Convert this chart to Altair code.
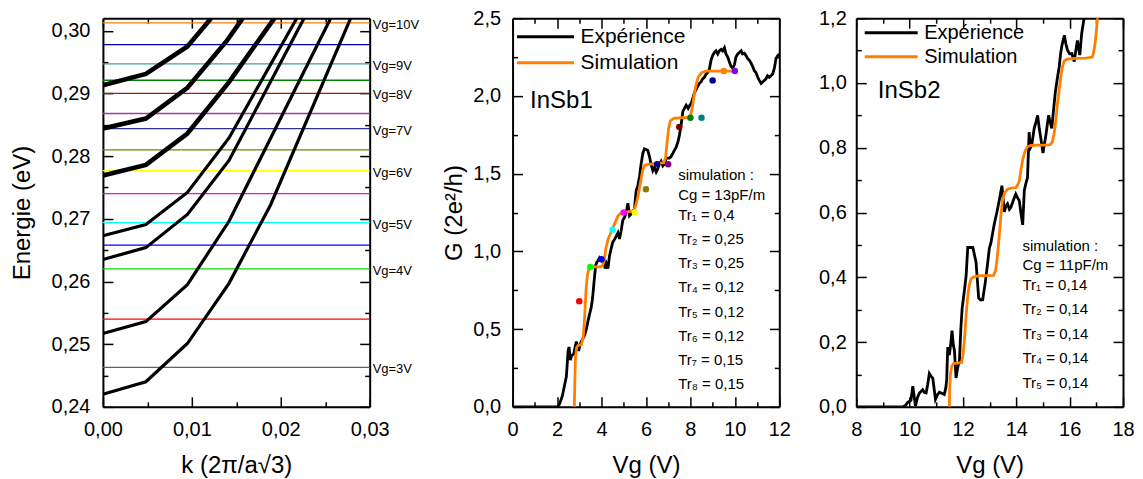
import altair as alt
import pandas as pd

FONT = "Liberation Sans"
W, H = 267, 389

# ---------------- Panel 1 : band structure ----------------
bandA_k = [0.0, 0.00483, 0.0095, 0.01418, 0.01885, 0.02783, 0.0285]
bandA_E = [0.2420, 0.2440, 0.2501, 0.2597, 0.2722, 0.3019, 0.3041]
bandB_k = [0.0, 0.00483, 0.0095, 0.01418, 0.02559, 0.0262]
bandB_E = [0.2517, 0.2536, 0.2595, 0.2696, 0.3019, 0.3036]
bandC_k = [0.0, 0.00483, 0.0095, 0.01418, 0.02259, 0.0232]
bandC_E = [0.2635, 0.2654, 0.2707, 0.2793, 0.3019, 0.3035]
bandD_k = [0.0, 0.00483, 0.0095, 0.01418, 0.02177, 0.0224]
bandD_E = [0.2673, 0.2691, 0.2742, 0.2829, 0.3019, 0.3035]
bandE_k = [0.0, 0.00483, 0.0095, 0.01418, 0.01923, 0.0198]
bandE_E = [0.2769, 0.2786, 0.2836, 0.2918, 0.3019, 0.3031]
bandF_k = [0.0, 0.00483, 0.0095, 0.01399, 0.01567, 0.0162]
bandF_E = [0.2844, 0.2860, 0.2909, 0.2985, 0.3019, 0.3030]
bandG_k = [0.0, 0.00483, 0.0095, 0.01212, 0.0126]
bandG_E = [0.2913, 0.2931, 0.2975, 0.3019, 0.3028]
bands = {"A": (bandA_k, bandA_E), "B": (bandB_k, bandB_E), "C": (bandC_k, bandC_E),
         "D": (bandD_k, bandD_E), "E": (bandE_k, bandE_E), "F": (bandF_k, bandF_E),
         "G": (bandG_k, bandG_E)}
thick_bands = ["E", "F", "G"]

level_vg = [3, 3.5, 4, 4.5, 5, 5.5, 6, 6.5, 7, 7.5, 8, 8.5, 9, 9.5, 10]
level_E = [0.2463, 0.2540, 0.2620, 0.2658, 0.2694, 0.2740, 0.2777, 0.2810,
           0.2844, 0.2868, 0.2900, 0.2921, 0.2947, 0.2978, 0.30125]
level_colors = ["#606060", "#ff0000", "#00e000", "#0000ff", "#00ffff", "#ff00ff",
                "#ffff00", "#808000", "#303090", "#a040a0", "#902020", "#008000",
                "#40a0a0", "#0000b0", "#ff8000"]

# ---------------- Panel 2 : InSb1 ----------------
exp1_vg = [0, 1.9, 2.04, 2.12, 2.24, 2.42, 2.50, 2.54, 2.60, 2.66, 2.75, 2.87, 2.97, 3.04,
           3.09, 3.17, 3.24, 3.32, 3.39, 3.47, 3.54, 3.60, 3.65, 3.69, 3.74, 3.79, 3.84,
           3.92, 3.99, 4.06, 4.10, 4.16, 4.22, 4.29, 4.36, 4.44, 4.51, 4.60, 4.67, 4.74,
           4.81, 4.88, 4.96, 5.04, 5.11, 5.19, 5.26, 5.33, 5.41, 5.48, 5.56, 5.63, 5.71,
           5.78, 5.86, 5.93, 6.01, 6.08, 6.16, 6.23, 6.31, 6.38, 6.46, 6.53, 6.60, 6.68,
           6.76, 6.83, 6.91, 7.06, 7.13, 7.21, 7.28, 7.36, 7.45, 7.51, 7.58, 7.66, 7.73,
           7.81, 7.90, 7.97, 8.03, 8.10, 8.18, 8.25, 8.33, 8.40, 8.48, 8.55, 8.63, 8.70,
           8.78, 8.85, 8.93, 9.00, 9.08, 9.15, 9.23, 9.30, 9.38, 9.45, 9.53, 9.60, 9.68,
           9.75, 9.83, 9.90, 9.98, 10.05, 10.13, 10.20, 10.28, 10.35, 10.43, 10.50, 10.58,
           10.65, 10.73, 10.80, 10.88, 10.95, 11.03, 11.10, 11.18, 11.25, 11.33, 11.40,
           11.47, 11.55, 11.62, 11.70, 11.78, 11.85, 11.93, 12.0]
exp1_g = [0, 0, 0, 0.02, 0.07, 0.195, 0.36, 0.385, 0.30, 0.33, 0.34, 0.42, 0.36, 0.40,
          0.42, 0.44, 0.46, 0.50, 0.55, 0.60, 0.64, 0.70, 0.78, 0.84, 0.91, 0.93, 0.94,
          0.96, 0.95, 0.93, 0.96, 0.89, 0.92, 0.89, 0.97, 1.02, 1.06, 1.08, 1.10, 1.12,
          1.08, 1.13, 1.20, 1.22, 1.25, 1.31, 1.23, 1.24, 1.26, 1.27, 1.39, 1.42, 1.48,
          1.56, 1.63, 1.66, 1.655, 1.65, 1.61, 1.56, 1.52, 1.54, 1.51, 1.53, 1.56, 1.58,
          1.55, 1.56, 1.60, 1.60, 1.61, 1.63, 1.65, 1.67, 1.71, 1.75, 1.81, 1.90, 1.92,
          1.94, 1.92, 1.94, 1.95, 1.98, 2.02, 2.04, 2.06, 2.08, 2.09, 2.11, 2.12, 2.14,
          2.15, 2.17, 2.23, 2.26, 2.28, 2.29, 2.27, 2.29, 2.30, 2.29, 2.31, 2.27, 2.25,
          2.22, 2.19, 2.18, 2.20, 2.25, 2.27, 2.28, 2.29, 2.27, 2.275, 2.26, 2.24,
          2.23, 2.21, 2.19, 2.16, 2.15, 2.12, 2.10, 2.08, 2.09, 2.10, 2.11,
          2.13, 2.12, 2.13, 2.14, 2.18, 2.24, 2.26, 2.27]
sim1_vg = [2.78, 2.80, 2.83, 2.88, 2.95, 3.10, 3.18, 3.24, 3.30, 3.36, 3.42, 3.50, 3.70,
           3.95, 4.05, 4.12, 4.20, 4.30, 4.45, 4.60, 4.75, 4.90, 5.20, 5.45, 5.55, 5.65,
           5.75, 5.85, 5.95, 6.10, 6.50, 6.80, 6.88, 6.95, 7.02, 7.10, 7.25, 7.60, 7.90,
           8.00, 8.08, 8.15, 8.25, 8.35, 8.50, 8.70, 9.20, 9.60, 10.0]
sim1_g = [0.0, 0.15, 0.32, 0.38, 0.395, 0.40, 0.45, 0.57, 0.74, 0.84, 0.88, 0.895, 0.90,
          0.90, 0.91, 0.94, 1.02, 1.08, 1.13, 1.18, 1.23, 1.25, 1.255, 1.26, 1.30, 1.36,
          1.44, 1.52, 1.555, 1.56, 1.565, 1.57, 1.60, 1.70, 1.79, 1.84, 1.855, 1.86, 1.86,
          1.87, 1.92, 1.99, 2.07, 2.12, 2.15, 2.16, 2.16, 2.16, 2.16]
dot_vg = [3.0, 3.5, 4.0, 4.5, 5.0, 5.5, 6.0, 6.5, 7.0, 7.5, 8.0, 8.5, 9.0, 9.5, 10.0]
dot_g = [0.68, 0.90, 0.95, 1.14, 1.25, 1.25, 1.40, 1.56, 1.56, 1.80, 1.86, 1.86, 2.10, 2.16, 2.16]
dot_colors = ["#ff0000", "#00ff00", "#0000ff", "#00ffff", "#ff00ff", "#ffff00", "#808000",
              "#000080", "#800080", "#800000", "#008000", "#008080", "#0000a0", "#ff8000",
              "#8000ff"]
sim1_text_a = ["simulation :", "Cg = 13pF/m"]
sim1_text_b = ["Tr\u2081 = 0,4", "Tr\u2082 = 0,25", "Tr\u2083 = 0,25", "Tr\u2084 = 0,12",
               "Tr\u2085 = 0,12", "Tr\u2086 = 0,12", "Tr\u2087 = 0,15", "Tr\u2088 = 0,15"]

# ---------------- Panel 3 : InSb2 ----------------
exp2_vg = [8, 9.75, 9.85, 9.93, 10.05, 10.12, 10.22, 10.30, 10.37, 10.49, 10.55, 10.62,
           10.68, 10.74, 10.80, 10.87, 10.97, 11.05, 11.12, 11.18, 11.30, 11.36, 11.39,
           11.43, 11.49, 11.55, 11.59, 11.64, 11.68, 11.74, 11.80, 11.87, 11.92, 11.97,
           12.05, 12.12, 12.18, 12.37, 12.43, 12.49, 12.55, 12.59, 12.66, 12.74, 12.84,
           12.93, 12.99, 13.05, 13.12, 13.18, 13.27, 13.36, 13.46, 13.55, 13.61, 13.67,
           13.74, 13.80, 13.90, 13.98, 14.05, 14.11, 14.17, 14.24, 14.30, 14.36, 14.42,
           14.48, 14.53, 14.58, 14.67, 14.74, 14.80, 14.86, 14.92, 15.00, 15.05, 15.11,
           15.16, 15.21, 15.27, 15.33, 15.40, 15.46, 15.53, 15.61, 15.66, 15.71, 15.80,
           15.86, 15.92, 16.00, 16.08, 16.17, 16.23, 16.29, 16.35, 16.38, 16.45, 16.54, 16.60]
exp2_g = [0, 0, 0.005, 0.014, 0.02, 0.064, 0.003, 0.03, 0.043, 0.053, 0.045, 0.043,
          0.07, 0.103, 0.095, 0.088, 0.023, 0.038, 0.045, 0.043, 0.038, 0.06, 0.084,
          0.185, 0.16, 0.20, 0.235, 0.19, 0.175, 0.089, 0.12, 0.144, 0.24, 0.305,
          0.356, 0.406, 0.492, 0.492, 0.47, 0.447, 0.38, 0.336, 0.33, 0.331, 0.386,
          0.447, 0.49, 0.507, 0.54, 0.567, 0.60, 0.637, 0.683, 0.602, 0.62, 0.627,
          0.61, 0.617, 0.64, 0.657, 0.645, 0.637, 0.60, 0.562, 0.668, 0.69, 0.708,
          0.848, 0.80, 0.808, 0.86, 0.88, 0.90, 0.86, 0.829, 0.784, 0.81, 0.839,
          0.87, 0.90, 0.88, 0.86, 0.92, 0.97, 1.01, 1.051, 1.09, 1.116, 1.147,
          1.12, 1.101, 1.09, 1.091, 1.066, 1.10, 1.131, 1.10, 1.086, 1.152, 1.20, 1.25]
sim2_vg = [11.49, 11.50, 11.53, 11.58, 11.66, 11.80, 11.95, 12.00, 12.05, 12.10, 12.14,
           12.19, 12.24, 12.30, 12.37, 12.60, 12.90, 13.15, 13.22, 13.27, 13.32, 13.36,
           13.42, 13.48, 13.56, 13.67, 13.80, 13.98, 14.05, 14.11, 14.17, 14.24, 14.33,
           14.42, 14.55, 14.80, 15.10, 15.28, 15.36, 15.43, 15.50, 15.56, 15.61, 15.67,
           15.73, 15.80, 15.90, 16.20, 16.60, 16.85, 16.90, 16.95, 17.00, 17.04, 17.08]
sim2_g = [0.0, 0.05, 0.10, 0.125, 0.134, 0.135, 0.137, 0.16, 0.20, 0.26, 0.305,
          0.35, 0.376, 0.395, 0.40, 0.405, 0.405, 0.406, 0.42, 0.45, 0.49, 0.527,
          0.59, 0.637, 0.66, 0.672, 0.675, 0.677, 0.685, 0.697, 0.73, 0.763, 0.79,
          0.803, 0.807, 0.808, 0.808, 0.81, 0.82, 0.85, 0.90, 0.95, 0.98, 1.02,
          1.05, 1.068, 1.074, 1.076, 1.077, 1.08, 1.095, 1.12, 1.16, 1.197, 1.24]
sim2_text_a = ["simulation :", "Cg = 11pF/m"]
sim2_text_b = ["Tr\u2081 = 0,14", "Tr\u2082 = 0,14", "Tr\u2083 = 0,14", "Tr\u2084 = 0,14",
               "Tr\u2085 = 0,14"]

series_names = ["Exp\u00e9rience", "Simulation"]
series_colors = ["black", "#ff8000"]

one_row = pd.DataFrame({"o": [0]})


def lbl(fmt):
    return f"replace(format(datum.value, '{fmt}'), '.', ',')"


def axis_layers(xdom, ydom, xmaj, xmin, ymaj, ymin, xfmt, yfmt, xtitle, ytitle,
                ylabpad, ytitlepad):
    df = pd.DataFrame({"ax": xdom, "ay": ydom})
    xs = alt.Scale(domain=xdom, nice=False, zero=False)
    ys = alt.Scale(domain=ydom, nice=False, zero=False)

    def lay(xa, ya):
        return alt.Chart(df).mark_point(opacity=0).encode(
            x=alt.X("ax:Q", scale=xs, axis=xa),
            y=alt.Y("ay:Q", scale=ys, axis=ya))

    if ytitle:
        yaxis = alt.Axis(values=ymaj, labelExpr=lbl(yfmt), title=ytitle, ticks=False,
                         tickSize=0, labelPadding=ylabpad, titlePadding=ytitlepad)
    else:
        yaxis = alt.Axis(values=ymaj, labelExpr=lbl(yfmt), title=None, ticks=False,
                         tickSize=0, labelPadding=ylabpad)
    main = lay(alt.Axis(values=xmaj, labelExpr=lbl(xfmt), title=xtitle, ticks=False,
                        tickSize=0, labelPadding=13, titlePadding=14), yaxis)
    t1 = lay(alt.Axis(orient="top", offset=-H, values=xmaj, labels=False, domain=False,
                      tickSize=10, title=None),
             alt.Axis(orient="right", offset=-W, values=ymaj, labels=False, domain=False,
                      tickSize=10, title=None))
    t2 = lay(alt.Axis(orient="top", offset=-H, values=xmin, labels=False, domain=False,
                      tickSize=5, title=None),
             alt.Axis(orient="right", offset=-W, values=ymin, labels=False, domain=False,
                      tickSize=5, title=None))
    t3 = lay(alt.Axis(orient="bottom", offset=-H, values=xmaj, labels=False, domain=True,
                      tickSize=10, title=None),
             alt.Axis(orient="left", offset=-W, values=ymaj, labels=False, domain=True,
                      tickSize=10, title=None))
    t4 = lay(alt.Axis(orient="bottom", offset=-H, values=xmin, labels=False, domain=False,
                      tickSize=5, title=None),
             alt.Axis(orient="left", offset=-W, values=ymin, labels=False, domain=False,
                      tickSize=5, title=None))
    return xs, ys, [main, t1, t2, t3, t4]


# ---------- panel 1 ----------
xs1, ys1, ax1 = axis_layers([0, 0.03], [0.24, 0.302], [0, 0.01, 0.02, 0.03],
                            [0.005, 0.015, 0.025],
                            [0.24, 0.25, 0.26, 0.27, 0.28, 0.29, 0.30],
                            [0.245, 0.255, 0.265, 0.275, 0.285, 0.295],
                            ".2f", ".2f", "k (2\u03c0/a\u221a3)", "Energie (eV)", 13, 17)
rows = []
for name, (ks, es) in bands.items():
    for k, e in zip(ks, es):
        rows.append({"band": name, "k": k, "E": e})
band_df = pd.DataFrame(rows)
levels_df = pd.DataFrame({"vg": level_vg, "E": level_E})

levels = alt.Chart(levels_df).mark_rule(strokeWidth=1.3).encode(
    y=alt.Y("E:Q", scale=ys1, axis=None),
    color=alt.Color("vg:N", scale=alt.Scale(domain=level_vg, range=level_colors), legend=None))
vg_labels = alt.Chart(levels_df).transform_filter("datum.vg % 1 == 0").transform_calculate(
    lab="'Vg=' + datum.vg + 'V'").mark_text(
    align="left", baseline="middle", dx=3, dy=2, fontSize=13, font=FONT, color="black").encode(
    x=alt.XDatum(0.03, axis=None), y=alt.Y("E:Q", scale=ys1, axis=None), text="lab:N")
bands_thin = alt.Chart(band_df).transform_filter(
    alt.FieldOneOfPredicate(field="band", oneOf=["A", "B", "C", "D"])).mark_line(
    clip=True, strokeWidth=3.2, color="black").encode(
    x=alt.X("k:Q", scale=xs1, axis=None), y=alt.Y("E:Q", scale=ys1, axis=None),
    detail="band:N")
bands_thick = alt.Chart(band_df).transform_filter(
    alt.FieldOneOfPredicate(field="band", oneOf=thick_bands)).mark_line(
    clip=True, strokeWidth=4.6, color="black").encode(
    x=alt.X("k:Q", scale=xs1, axis=None), y=alt.Y("E:Q", scale=ys1, axis=None),
    detail="band:N")
p1 = alt.layer(levels, bands_thin, bands_thick, vg_labels, *ax1).resolve_axis(
    x="independent", y="independent").properties(width=W, height=H)


def g_panel(xdom, ydom, xmaj, xmin, ymaj, ymin, ytitle, ylabpad, ytitlepad,
            exp_vg, exp_g, sim_vg, sim_g, name, name_x, name_y,
            text_a, text_b, tx, ty_a, ty_b, lh_a, lh_b, leg, dots=None):
    xs, ys, ax = axis_layers(xdom, ydom, xmaj, xmin, ymaj, ymin, "d", ".1f", "Vg (V)",
                             ytitle, ylabpad, ytitlepad)
    df = pd.concat([
        pd.DataFrame({"vg": exp_vg, "g": exp_g, "series": series_names[0]}),
        pd.DataFrame({"vg": sim_vg, "g": sim_g, "series": series_names[1]})])
    s = leg["s"]              # symbol box size (px)
    half = leg["len"] / 2.0   # half length of the legend line
    a = half / (s / 2.0)
    path = f"M-{a:.4f},0L{a:.4f},0"
    lines = alt.Chart(df).mark_line(clip=True, strokeWidth=2.8).encode(
        x=alt.X("vg:Q", scale=xs, axis=None), y=alt.Y("g:Q", scale=ys, axis=None),
        color=alt.Color("series:N", scale=alt.Scale(domain=series_names, range=series_colors),
                        legend=alt.Legend(title=None, orient="none",
                                          legendX=leg["x"] + half - s / 2.0,
                                          legendY=leg["y"], symbolType=path,
                                          symbolSize=s * s, symbolStrokeWidth=3,
                                          symbolFillColor="transparent",
                                          labelFontSize=leg["fs"], labelFont=FONT,
                                          labelColor="black", rowPadding=leg["rp"],
                                          padding=0,
                                          labelOffset=half - s / 2.0 + 5,
                                          labelLimit=300)))
    layers = [lines]
    if dots is not None:
        layers.append(alt.Chart(dots).mark_circle(size=42, opacity=1).encode(
            x=alt.X("vg:Q", scale=xs, axis=None), y=alt.Y("g:Q", scale=ys, axis=None),
            color=alt.Color("c:N", scale=None)))
    layers.append(alt.Chart(one_row).mark_text(text=name, align="left", baseline="alphabetic",
                                               fontSize=24, font=FONT, color="black").encode(
        x=alt.XDatum(name_x, axis=None), y=alt.YDatum(name_y, axis=None)))
    layers.append(alt.Chart(one_row).mark_text(text=text_a, align="left", baseline="alphabetic",
                                               fontSize=15, font=FONT, color="black",
                                               lineHeight=lh_a).encode(
        x=alt.XDatum(tx, axis=None), y=alt.YDatum(ty_a, axis=None)))
    layers.append(alt.Chart(one_row).mark_text(text=text_b, align="left", baseline="alphabetic",
                                               fontSize=15, font=FONT, color="black",
                                               lineHeight=lh_b).encode(
        x=alt.XDatum(tx, axis=None), y=alt.YDatum(ty_b, axis=None)))
    return alt.layer(*layers, *ax).resolve_axis(x="independent", y="independent").properties(
        width=W, height=H)


dots_df = pd.DataFrame({"vg": dot_vg, "g": dot_g, "c": dot_colors})
p2 = g_panel([0, 12], [0, 2.5], list(range(0, 13, 2)), list(range(1, 12, 2)),
             [0, 0.5, 1.0, 1.5, 2.0, 2.5], [0.25, 0.75, 1.25, 1.75, 2.25],
             "G (2e\u00b2/h)", 12, 6, exp1_vg, exp1_g, sim1_vg, sim1_g,
             "InSb1", 0.79, 1.92, sim1_text_a, sim1_text_b, 7.45, 1.46, 1.205, 20, 24.3,
             {"x": 3, "y": 6.5, "s": 21, "len": 57, "fs": 21, "rp": 4}, dots=dots_df)
p3 = g_panel([8, 18], [0, 1.2], list(range(8, 19, 2)), list(range(9, 18, 2)),
             [0, 0.2, 0.4, 0.6, 0.8, 1.0, 1.2], [0.1, 0.3, 0.5, 0.7, 0.9, 1.1],
             None, 10, 6, exp2_vg, exp2_g, sim2_vg, sim2_g,
             "InSb2", 8.81, 0.955, sim2_text_a, sim2_text_b, 14.23, 0.48, 0.362, 19, 24.5,
             {"x": 7, "y": 3, "s": 20, "len": 53, "fs": 20, "rp": 2})

p23 = alt.hconcat(p2, p3, spacing=27).resolve_scale(color="independent").resolve_legend(
    color="independent")
chart = alt.hconcat(p1, p23, spacing=23).resolve_scale(color="independent").resolve_legend(
    color="independent").properties(
    padding={"left": 2, "top": 0, "right": 0, "bottom": 0}
).configure_view(strokeWidth=0).configure_axis(
    grid=False, labelFont=FONT, titleFont=FONT, labelFontSize=20, titleFontSize=24,
    titleFontWeight="normal", labelColor="black", titleColor="black", tickColor="black",
    domainColor="black", domainWidth=2, tickWidth=1.5, labelFlush=False, labelOverlap=False)

chart.save("out.html", embed_options={"renderer": "svg", "actions": False})
